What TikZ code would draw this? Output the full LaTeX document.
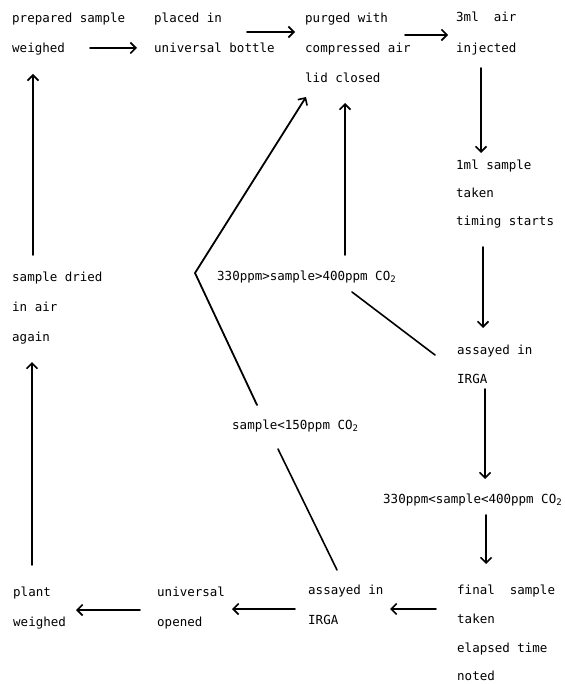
\documentclass[tikz,border=0pt]{standalone}
\usepackage{fontspec}
\setmonofont{DejaVu Sans Mono}
\usetikzlibrary{arrows.meta}
\newcommand{\cotwo}{CO\raisebox{-0.35ex}{\fontsize{9}{9}\selectfont 2}}
\begin{document}
\begin{tikzpicture}[x=1pt,y=-1pt,
  lbl/.style={anchor=base west, inner sep=0pt, font=\fontsize{12.5}{15}\ttfamily},
  arr/.style={line width=1.8pt, line cap=round, -{Straight Barb[length=5.5pt,width=11pt,line width=1.6pt]}},
  ln/.style={line width=1.6pt, line cap=round}]
\useasboundingbox (0,0) rectangle (564,684);
% text
\node[lbl] (ps1) at (12,23) {prepared sample};
\node[lbl] (ps2) at (12,53) {weighed};
\node[lbl] (pl1) at (154,23) {placed in};
\node[lbl] (pl2) at (154,53) {universal bottle};
\node[lbl] (pu1) at (305,23) {purged with};
\node[lbl] (pu2) at (305,53) {compressed air};
\node[lbl] (pu3) at (305,83) {lid closed};
\node[lbl] (in1) at (456,22) {3ml~~air};
\node[lbl] (in2) at (456,53) {injected};
\node[lbl] (ms1) at (456,170) {1ml sample};
\node[lbl] (ms2) at (456,198) {taken};
\node[lbl] (ms3) at (456,226) {timing starts};
\node[lbl] (hi) at (217,280) {330ppm>sample>400ppm \cotwo};
\node[lbl] (sd1) at (12,281) {sample dried};
\node[lbl] (sd2) at (12,311) {in air};
\node[lbl] (sd3) at (12,341) {again};
\node[lbl] (ar1) at (457,354) {assayed in};
\node[lbl] (ar2) at (457,383) {IRGA};
\node[lbl] (lo) at (232,429) {sample<150ppm \cotwo};
\node[lbl] (ok) at (383,503) {330ppm<sample<400ppm \cotwo};
\node[lbl] (pw1) at (13,596) {plant};
\node[lbl] (pw2) at (13,626) {weighed};
\node[lbl] (uo1) at (157,596) {universal};
\node[lbl] (uo2) at (157,626) {opened};
\node[lbl] (ab1) at (308,594) {assayed in};
\node[lbl] (ab2) at (308,624) {IRGA};
\node[lbl] (fs1) at (457,594) {final~~sample};
\node[lbl] (fs2) at (457,623) {taken};
\node[lbl] (fs3) at (457,652) {elapsed time};
\node[lbl] (fs4) at (457,680) {noted};
% connector end points
\coordinate (a1s) at (90,48);   \coordinate (a1e) at (137,48);
\coordinate (a2s) at (247,32);  \coordinate (a2e) at (295,32);
\coordinate (a3s) at (405,35);  \coordinate (a3e) at (448,35);
\coordinate (a4s) at (481,68);  \coordinate (a4e) at (481,153);
\coordinate (a5s) at (483,247); \coordinate (a5e) at (483,328);
\coordinate (a6s) at (485,389); \coordinate (a6e) at (485,479);
\coordinate (a7s) at (486,515); \coordinate (a7e) at (486,564);
\coordinate (a8s) at (436,609); \coordinate (a8e) at (390,609);
\coordinate (a9s) at (295,609); \coordinate (a9e) at (232,609);
\coordinate (a10s) at (140,610); \coordinate (a10e) at (76,610);
\coordinate (a11s) at (32,565); \coordinate (a11e) at (32,362);
\coordinate (a12s) at (33,255); \coordinate (a12e) at (33,74);
\coordinate (a13s) at (345,255); \coordinate (a13e) at (345,103);
\coordinate (l1s) at (352,292); \coordinate (l1e) at (435,355);
\coordinate (l2s) at (257,405); \coordinate (l2c) at (195,273); \coordinate (l2e) at (306,97);
\coordinate (l3s) at (278,449); \coordinate (l3e) at (337,570);
% connectors
\draw[arr] (a1s) -- (a1e);
\draw[arr] (a2s) -- (a2e);
\draw[arr] (a3s) -- (a3e);
\draw[arr] (a4s) -- (a4e);
\draw[arr] (a5s) -- (a5e);
\draw[arr] (a6s) -- (a6e);
\draw[arr] (a7s) -- (a7e);
\draw[arr] (a8s) -- (a8e);
\draw[arr] (a9s) -- (a9e);
\draw[arr] (a10s) -- (a10e);
\draw[arr] (a11s) -- (a11e);
\draw[arr] (a12s) -- (a12e);
\draw[arr] (a13s) -- (a13e);
\draw[ln] (l1s) -- (l1e);
\draw[arr, line join=round] (l2s) -- (l2c) -- (l2e);
\draw[ln] (l3s) -- (l3e);
\end{tikzpicture}
\end{document}
